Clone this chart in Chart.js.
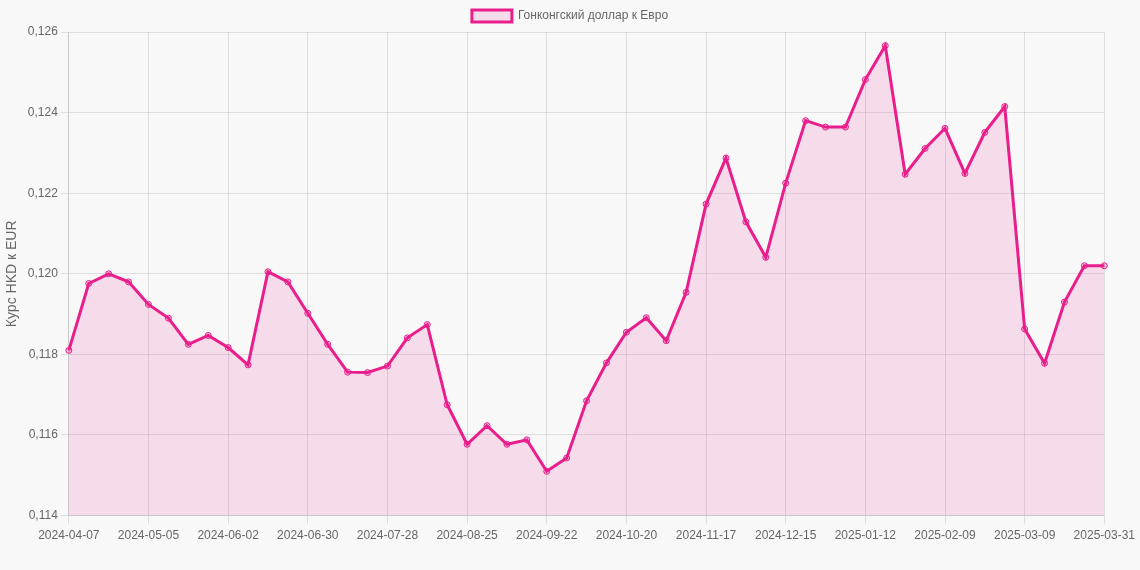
<!DOCTYPE html>
<html>
<head>
<meta charset="utf-8">
<script src="https://cdn.jsdelivr.net/npm/chart.js@4.4.1/dist/chart.umd.min.js"></script>
<style>
  html, body { margin: 0; padding: 0; background: #f8f8f8; }
  #wrap { width: 1140px; height: 570px; }
</style>
</head>
<body>
<div id="wrap"><canvas id="graficoHkd" width="1140" height="570"></canvas></div>
<script>
// недельные даты
const datas = [
    '2024-04-07', '2024-04-14', '2024-04-21', '2024-04-28',
    '2024-05-05', '2024-05-12', '2024-05-19', '2024-05-26',
    '2024-06-02', '2024-06-09', '2024-06-16', '2024-06-23', '2024-06-30',
    '2024-07-07', '2024-07-14', '2024-07-21', '2024-07-28',
    '2024-08-04', '2024-08-11', '2024-08-18', '2024-08-25',
    '2024-09-01', '2024-09-08', '2024-09-15', '2024-09-22', '2024-09-29',
    '2024-10-06', '2024-10-13', '2024-10-20', '2024-10-27',
    '2024-11-03', '2024-11-10', '2024-11-17', '2024-11-24',
    '2024-12-01', '2024-12-08', '2024-12-15', '2024-12-22', '2024-12-29',
    '2025-01-05', '2025-01-12', '2025-01-19', '2025-01-26',
    '2025-02-02', '2025-02-09', '2025-02-16', '2025-02-23',
    '2025-03-02', '2025-03-09', '2025-03-16', '2025-03-23', '2025-03-30',
    '2025-03-31'
];

const kursHkdEur = [
    0.11810, 0.11976, 0.12000, 0.11980,
    0.11924, 0.11890, 0.11825, 0.11847,
    0.11817, 0.11774, 0.12005, 0.11980, 0.11902,
    0.11825, 0.11756, 0.11755, 0.11771,
    0.11841, 0.11874, 0.11675, 0.11577,
    0.11623, 0.11577, 0.11588, 0.11510, 0.11543,
    0.11685, 0.11779, 0.11855, 0.11891,
    0.11834, 0.11954, 0.12173, 0.12287,
    0.12129, 0.12041, 0.12225, 0.12380, 0.12364,
    0.12364, 0.12482, 0.12566, 0.12247,
    0.12311, 0.12361, 0.12249, 0.12351,
    0.12415, 0.11863, 0.11778, 0.11930, 0.12020,
    0.12020
];

const yMin = 0.114;
const yMax = 0.126;
const yStep = 0.002;

const rosa = '#e91e8c';
const rosaFundo = 'rgba(233, 30, 140, 0.13)';

Chart.defaults.font.family = "'Liberation Sans', Arial, sans-serif";
Chart.defaults.font.size = 12;
Chart.defaults.color = '#666';

const graficoHkd = document.getElementById('graficoHkd');

new Chart(graficoHkd, {
    type: 'line',
    data: {
        labels: datas,
        datasets: [{
            label: 'Гонконгский доллар к Евро',
            data: kursHkdEur,
            borderColor: rosa,
            backgroundColor: rosaFundo,
            borderWidth: 3,
            pointRadius: 3,
            pointBorderWidth: 1,
            pointBackgroundColor: 'rgba(233, 30, 140, 0.25)',
            pointBorderColor: rosa,
            tension: 0,
            fill: 'start'
        }]
    },
    options: {
        responsive: false,
        animation: false,
        locale: 'ru-RU',
        layout: { padding: { bottom: 22, right: 0 } },
        plugins: {
            legend: {
                labels: { boxWidth: 40, boxHeight: 12 }
            },
            tooltip: { enabled: false }
        },
        scales: {
            x: {
                grid: { color: 'rgba(0,0,0,0.1)' },
                ticks: {
                    autoSkip: false,
                    maxRotation: 0,
                    padding: 5,
                    callback: (v, i) => i % 4 === 0 ? datas[i] : null
                }
            },
            y: {
                min: yMin,
                max: yMax,
                grid: { color: 'rgba(0,0,0,0.1)' },
                ticks: { stepSize: yStep },
                title: {
                    display: true,
                    text: 'Курс HKD к EUR',
                    font: { size: 14 }
                }
            }
        }
    }
});
</script>
</body>
</html>
